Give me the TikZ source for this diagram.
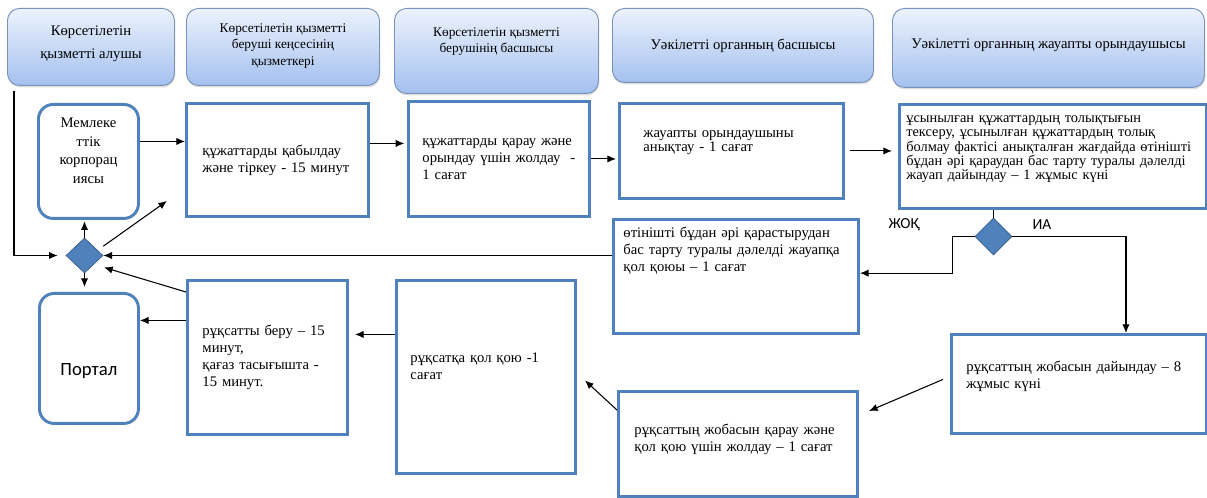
\documentclass[tikz,border=0pt]{standalone}
\usepackage{fontspec}
\setmainfont{Liberation Serif}
\newfontfamily\calfont{Carlito}
\usepackage{tikz}
\usetikzlibrary{shapes.geometric, positioning, shadows}
\usetikzlibrary{arrows.meta}
\tikzset{>={Latex[width=5.5pt,length=6.5pt]}}
\definecolor{boxblue}{RGB}{79,129,189}
\definecolor{headtop}{RGB}{236,242,252}
\definecolor{headbot}{RGB}{164,193,240}
\definecolor{headline}{RGB}{120,146,186}
\newcommand\tightlines{\lineskiplimit=-5pt\relax}

\begin{document}
\begin{tikzpicture}[x=0.75pt, y=-0.75pt, hdr/.style={rounded corners=9pt, draw=headline, line width=0.7pt, top color=headtop, bottom color=headbot, drop shadow={shadow xshift=0.6pt, shadow yshift=-1.5pt, opacity=0.25}, anchor=north west, align=center, inner sep=0pt, font=\fontsize{11}{13.2}\selectfont}, box/.style={rectangle, draw=boxblue, line width=2.2pt, fill=white, anchor=north west, align=left, inner sep=0pt, font=\fontsize{11}{12.75}\selectfont}, rbox/.style={box, rounded corners=11pt, align=center}, dec/.style={diamond, draw=boxblue!70!black, line width=0.5pt, fill=boxblue, inner sep=0pt}, lbl/.style={inner sep=1pt, font=\calfont\fontsize{11.5}{13}\selectfont}, conn/.style={line width=0.8pt}]
    \useasboundingbox (0,0) rectangle (1207,498);

    %Nodes
    \node[hdr, minimum width=125.25pt, minimum height=57.75pt](h_recv) at (7,8){Көрсетілетін\\[4.5pt]қызметті алушы\rule[-7pt]{0pt}{7pt}};
    \node[hdr, minimum width=144.75pt, minimum height=57.75pt, font=\fontsize{10}{12.4}\selectfont](h_office) at (186,8){Көрсетілетін қызметті\\беруші кеңсесінің\\қызметкері\rule[-4pt]{0pt}{4pt}};
    \node[hdr, minimum width=153pt, minimum height=63.75pt, font=\fontsize{10}{12.4}\selectfont](h_head) at (394,8){Көрсетілетін қызметті\\берушінің басшысы\rule[-16pt]{0pt}{16pt}};
    \node[hdr, minimum width=195.75pt, minimum height=55.5pt](h_auth_head) at (612,8){Уәкілетті органның басшысы};
    \node[hdr, minimum width=234pt, minimum height=59.25pt](h_exec) at (892,8){Уәкілетті органның жауапты орындаушысы\rule[-6pt]{0pt}{6pt}};

    \node[rbox, minimum width=75pt, minimum height=85.5pt, font=\fontsize{11}{14}\selectfont](corp) at (37,103){Мемлеке\\ттік\\корпорац\\иясы\rule[-16pt]{0pt}{16pt}};
    \node[box, minimum width=136.5pt, minimum height=84.75pt, text width=112.5pt](accept) at (185,102){құжаттарды қабылдау\\және тіркеу - 15 минут};
    \node[box, minimum width=135.75pt, minimum height=86.25pt, text width=114.75pt](forward) at (407,100){құжаттарды қарау және\\орындау үшін жолдау\ \ -\\1 сағат};
    \node[box, minimum width=168pt, minimum height=71.25pt, text width=132pt, font=\fontsize{11}{10.7}\selectfont](assign) at (618,102){\tightlines жауапты орындаушыны\\анықтау - 1 сағат\rule[-14.5pt]{0pt}{14.5pt}};
    \node[box, minimum width=230.25pt, minimum height=78pt, text width=220pt, font=\fontsize{10.8}{10.7}\selectfont](check) at (898,103){\tightlines ұсынылған құжаттардың толықтығын\\тексеру, ұсынылған құжаттардың толық\\болмау фактісі анықталған жағдайда өтінішті\\бұдан әрі қараудан бас тарту туралы дәлелді\\жауап дайындау – 1 жұмыс күні\rule[-13.25pt]{0pt}{13.25pt}};

    \node[dec, minimum width=27.75pt, minimum height=26.25pt](gate) at (84.5,255.5){};
    \node[dec, minimum width=27.75pt, minimum height=27.75pt](decide) at (993.5,236.5){};
    \node[lbl](no_text) at (904,225){ЖОҚ};
    \node[lbl](yes_text) at (1042,225){ИА};

    \node[box, minimum width=183.75pt, minimum height=85.5pt, text width=168.75pt](refuse_sign) at (612,218){өтінішті бұдан әрі қарастырудан\\бас тарту туралы дәлелді жауапқа\\қол қоюы – 1 сағат\rule[-40.5pt]{0pt}{40.5pt}};
    \node[box, minimum width=191.25pt, minimum height=74.25pt, text width=168.75pt](draft) at (950,333){рұқсаттың жобасын дайындау – 8\\жұмыс күні\rule[-13.75pt]{0pt}{13.75pt}};
    \node[box, minimum width=179.25pt, minimum height=78.75pt, text width=155.25pt](draft_send) at (617,390){рұқсаттың жобасын қарау және\\қол қою үшін жолдау – 1 сағат\rule[-10pt]{0pt}{10pt}};
    \node[box, minimum width=134.25pt, minimum height=144.75pt, text width=113.25pt](sign) at (395,279){рұқсатқа қол қою -1\\сағат\rule[-16pt]{0pt}{16pt}};
    \node[box, minimum width=120pt, minimum height=115.5pt, text width=97.5pt](issue) at (186,279){рұқсатты беру – 15\\минут,\\қағаз тасығышта -\\15 минут.};
    \node[rbox, minimum width=74.25pt, minimum height=97.5pt, font=\calfont\fontsize{14}{16}\selectfont](portal) at (38,292){\rule{0pt}{28.5pt}Портал};

    %Lines
    \coordinate (start) at ([xshift=5.25pt,yshift=-3.75pt]h_recv.south west);
    \draw[conn, ->, shorten >=6pt] (start) |- (gate.west);
    \draw[conn, ->, shorten >=1pt] (gate.north) -- (gate.north |- corp.south);
    \draw[conn, ->, shorten >=3.75pt] (gate.south) -- (gate.south |- portal.north);
    \draw[conn, ->] ([yshift=7pt]gate.east) -- ([xshift=-13.5pt,yshift=12.75pt]accept.south west);
    \draw[conn, ->] (gate.east -| refuse_sign.west) -- (gate.east);
    \draw[conn, ->, shorten >=7.9pt] ([yshift=-9.75pt]issue.north west) -- (gate.south east);
    \coordinate (ca) at ([yshift=15pt]corp.east);
    \draw[conn, ->] (ca) -- (ca -| accept.west);
    \coordinate (ab) at ([yshift=12.4pt]accept.east);
    \draw[conn, ->, shorten >=2pt] (ab) -- (ab -| forward.west);
    \draw[conn, ->, shorten >=1.5pt] (forward.east) -- (forward.east -| assign.west);
    \draw[conn, ->, shorten <=3.75pt, shorten >=4.5pt] (assign.east) -- (assign.east -| check.west);
    \draw[conn] (check.south -| decide.north) -- (decide.north);
    \draw[conn, ->] (decide.west) -- ++(-22,0) |- ([yshift=2.5pt]refuse_sign.east);
    \draw[conn, ->] (decide.east) -| ([xshift=35.25pt]draft.north);
    \draw[conn, ->] ([xshift=-5.25pt,yshift=3.4pt]draft.west) -- ([xshift=7.5pt,yshift=-15.75pt]draft_send.north east);
    \draw[conn, ->] ([yshift=-15pt]draft_send.north west) -- ([xshift=6pt,yshift=-2.6pt]sign.east);
    \coordinate (hi) at ([yshift=31.9pt]sign.west);
    \draw[conn, ->, shorten >=4.5pt] (hi) -- (hi -| issue.east);
    \coordinate (ip) at ([yshift=27.75pt]issue.west);
    \draw[conn, ->] (ip) -- (ip -| portal.east);

\end{tikzpicture}
\end{document}
